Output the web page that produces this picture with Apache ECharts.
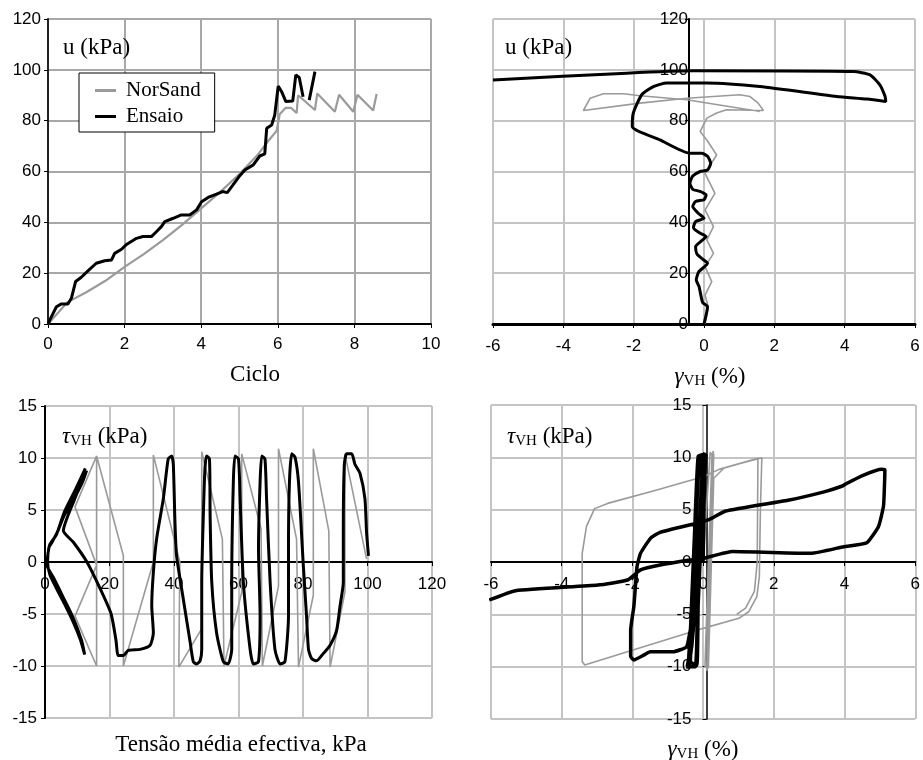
<!DOCTYPE html>
<html><head><meta charset="utf-8">
<script src="https://cdn.jsdelivr.net/npm/echarts@6/dist/echarts.min.js"></script>
<style>html,body{margin:0;padding:0;background:#fff}#c{width:923px;height:760px}</style>
</head><body><div id="c"></div>
<script>
// ---- tick labels ----
const cicloTicks = [0, 2, 4, 6, 8, 10];
const uTicks = [0, 20, 40, 60, 80, 100, 120];
const gammaTicks = [-6, -4, -2, 0, 2, 4, 6];
const pTicks = [0, 20, 40, 60, 80, 100, 120];
const tauTicks = [-15, -10, -5, 0, 5, 10, 15];

// ---- panel 1: u vs Ciclo ----
const uCicloNorSand = [[0,0],[0.5,8.5],[1,12.5],[1.5,17],[2,22.5],[2.5,27.5],[3,33],[3.5,39],[4,45.5],[4.5,52],[5,59],[5.5,67],[5.75,72],[5.97,76],[6.05,82.5],[6.2,85],[6.35,85],[6.49,83],[6.53,90],[6.97,84.2],[7.03,90.7],[7.49,83.5],[7.6,90.2],[7.97,83.5],[8.08,90.2],[8.49,84],[8.58,90.5]];
const uCicloEnsaio = [[0,0],[0.09,2.9],[0.22,6.8],[0.35,7.9],[0.52,7.9],[0.61,10.1],[0.72,16.7],[0.87,18.4],[1.05,21],[1.26,23.9],[1.48,24.9],[1.66,25.2],[1.74,27.8],[1.92,29.4],[2.05,31.3],[2.31,33.7],[2.48,34.4],[2.7,34.4],[2.83,36.3],[2.96,38.3],[3.05,40.3],[3.27,41.6],[3.48,42.9],[3.7,42.9],[3.88,44.9],[4.01,48.1],[4.18,49.8],[4.4,51.1],[4.56,52.1],[4.68,51.7],[4.83,54.7],[4.99,58],[5.14,60.6],[5.36,62.6],[5.53,66.1],[5.66,66.9],[5.71,77],[5.84,78.3],[5.92,82.2],[6.01,93.6],[6.1,91.4],[6.21,87.5],[6.39,87.7],[6.47,98],[6.56,97],[6.66,89.4],[6.75,null],[6.82,88.1],[6.97,99.3]];

// ---- panel 2: u vs gamma ----
const uGammaNorSand = [[0.03,0],[0.12,6.8],[0.03,11.4],[0.22,16.7],[0.03,22.6],[0.27,27.8],[0.08,33.1],[0.27,38.3],[0.03,44.9],[0.31,51.4],[0.03,59.3],[0.36,66.5],[0.08,72.4],[-0.11,75.7],[0.08,81],[0.36,83],[0.64,84.3],[1.69,84],[1.54,86.9],[1.31,89.5],[1.02,90.2],[-0.49,88.8],[-1.82,86.9],[-3.43,84],[-3.24,88.8],[-2.86,90.6],[-2.29,90.6],[-1.82,89.8],[-0.49,88.2],[1.59,83.6]];
const uGammaEnsaio = [[0.0,0],[0.1,6.8],[-0.04,8.5],[-0.14,14.7],[-0.22,17.3],[-0.15,20.5],[0.1,23.9],[-0.04,25.5],[-0.2,27.5],[-0.24,30.4],[-0.08,32.6],[0.06,34.4],[-0.13,35.9],[-0.3,37.9],[-0.24,40.3],[0.0,41.6],[-0.18,43.8],[-0.32,46.2],[-0.24,48.2],[0.0,48.9],[0.06,50.8],[-0.12,52.2],[-0.32,53],[-0.4,55.4],[-0.32,58.2],[-0.11,60],[0.1,60.6],[0.19,63.2],[0.1,66],[-0.07,67.2],[-0.4,67.2],[-1.25,72.4],[-2.04,77.7],[-2.01,83],[-1.77,90.2],[-1.44,93.4],[-1.06,94.8],[0.08,94.8],[1.59,93.4],[3.77,89.5],[4.63,88.5],[5.17,87.5],[5.15,89.5],[5.0,94.1],[4.72,98],[4.25,99.3],[-0.3,99.6],[-2.2,98.7],[-6.0,96]];

// ---- panel 3: tau vs p' ----
const tauPNorSand = [[99.7,0.3],[93,10.4],[93,-2.9],[88.4,-10.1],[88,3],[83.2,10.9],[83.2,-3.2],[78.6,-10.1],[78,2.2],[72.4,10.9],[72.4,-2.3],[67.4,-10],[67,3.2],[61,10.4],[61,-2.9],[55.5,-10],[55,2.2],[48.6,10.6],[48.6,-6.4],[41.5,-10.1],[41.8,0],[33.6,10.3],[33.6,0],[24.3,-10],[24.3,0.6],[16,10.2],[16,-10],[9.3,-5.2],[16,-0.3],[9.3,5.3],[16,10.2]];
const tauPEnsaio = [[100.3,0.6],[99.7,2.9],[99.2,6.1],[97.7,8.5],[96.1,9.4],[95.1,10.4],[93.5,10.4],[92.8,9.3],[92.5,2.9],[92.5,-1.95],[91.5,-4.2],[90.4,-6.6],[88.4,-8.0],[86.3,-8.8],[84.2,-9.5],[82.7,-9.3],[81.7,-8.4],[81.1,-5.2],[80.1,-0.35],[78.6,7.7],[77.5,10.1],[76.5,10.4],[75.8,7.7],[75.5,1.3],[75.5,-5.2],[74.4,-9.6],[72.9,-9.8],[71.3,-8.4],[69.8,-1.9],[68.7,6.1],[68.2,9.9],[67.2,10.2],[66.7,7.7],[66.2,1.3],[66.7,-5.2],[66.2,-9.6],[64.6,-9.8],[63.6,-8.4],[61.5,-1.9],[60.5,6.1],[60,9.9],[58.9,10.2],[58.4,7.7],[57.9,-1.9],[57.9,-8.4],[56.8,-9.8],[55.3,-9.6],[53.2,-6.8],[51.7,-1.9],[51.2,4.5],[51,9.9],[50.1,10.2],[49.6,9],[49.1,4.5],[48.6,-1.9],[48.6,-8.4],[48.1,-9.5],[47,-9.8],[46,-9.6],[45,-7.7],[42.9,-3.6],[40.8,0.6],[40.3,3.8],[39.8,9.3],[39.3,10.2],[38.2,9.9],[36.7,6.1],[34.6,2.2],[33.6,-1],[33.1,-4.2],[33.6,-6.8],[32.6,-8],[29.5,-8.4],[25.8,-8.5],[24.3,-9],[22.7,-9],[22,-7.5],[20.5,-5],[17,-2.5],[13,0],[8.8,1.9],[5.7,3.0],[9,5.9],[12.9,8.8],[11.5,7.6],[8,5.5],[6,4.5],[4,3],[2,1.8],[1.2,1.4],[0.8,0],[1.5,-1.2],[3.5,-2.5],[6,-4],[8.8,-5.8],[11,-7.5],[12.3,-8.9],[11.3,-7.5],[8.5,-5.2],[5.5,-3.3],[2.8,-1.6],[0.6,-0.3],[1.4,1.6],[3.5,2.6],[6,4.8],[9.5,7],[12.5,9]];

// ---- panel 4: tau vs gamma ----
const tauGammaNorSand = [[0,0],[0.2,10.5],[0.25,10.2],[0.05,-10.1],[0.1,-10.2],[0.28,10.6],[0.3,10.2],[0.1,-10.4],[0.15,-10],[0.3,8],[0.6,9.0],[1.66,9.97],[1.62,5],[1.59,-1.4],[1.52,-3.3],[1.29,-4.75],[1.01,-5.38],[0,-6.34],[-3.35,-9.84],[-3.42,-9.5],[-3.42,0.83],[-3.3,3.4],[-3.07,5.1],[-2.7,5.6],[-1.31,6.88],[0,8.15],[0.45,8.85],[1.55,9.9],[1.53,0],[1.45,-2.8],[1.2,-4.4],[0.95,-5.0]];
const tauGammaEnsaio = [[0,0],[0.04,8],[0.08,10.3],[0.0,9.8],[-0.1,4],[-0.22,-4],[-0.38,-9.6],[-0.45,-10],[-0.4,-9],[-0.25,-3],[-0.1,3],[0.0,10.2],[-0.1,10],[-0.2,4],[-0.3,-3],[-0.42,-9.8],[-0.44,-10.2],[-0.32,-8],[-0.18,-2],[-0.06,4],[0.04,10.3],[-0.14,10.1],[-0.24,3],[-0.34,-5],[-0.4,-10],[-0.22,-10],[-0.16,-5],[-0.06,2],[0.0,8],[0.05,10.4],[-0.12,9.5],[-0.22,2],[-0.3,-5],[-0.36,-9.5],[-0.18,-9.9],[-0.14,-4],[-0.06,2],[-0.02,8],[0.06,10.2],[-0.14,8],[-0.26,0],[-0.34,-6],[-0.38,-6.8],[-0.47,-8.1],[-0.84,-8.57],[-1.5,-8.57],[-1.68,-8.9],[-1.96,-9.36],[-2.05,-9.0],[-2.05,-6.5],[-1.96,-4.27],[-1.87,-0.45],[-1.77,0.83],[-1.49,2.26],[-1.22,2.83],[-0.19,3.7],[0.18,4.08],[0.64,4.87],[2.4,5.9],[3.42,6.7],[3.94,7.26],[4.03,7.45],[4.54,8.3],[5.05,8.85],[5.14,8.8],[5.12,6.5],[5.1,5.3],[4.96,3.4],[4.63,1.85],[3.98,1.46],[3.05,0.83],[0.83,1.0],[0,0.35],[-0.38,0.19],[-1.22,-0.29],[-1.77,-0.76],[-2.14,-1.72],[-2.98,-2.2],[-5.3,-2.74],[-6.05,-3.63]];

// ---- styling ----
const SANS = 'Liberation Sans', SERIF = 'Liberation Serif';
const GRAY = '#9a9a9a', BLACK = '#000';
function rng(t) { return { min: t[0], max: t[t.length - 1], interval: t[1] - t[0] }; }
function axis(t, grid, opts) {
  const o = Object.assign({
    type: 'value', gridIndex: grid,
    axisLabel: { fontFamily: SANS, fontSize: 17, color: '#000', margin: 8 },
    axisTick: { show: true, length: 4, lineStyle: { color: '#000' } },
    axisLine: { show: true, lineStyle: { color: '#000', width: 2 } },
    splitLine: { show: true, lineStyle: { color: '#c4c4c4', width: 2 } }
  }, rng(t));
  return echarts.util.merge(o, opts || {}, true);
}
function ser(name, data, xi, gray, extra) {
  return Object.assign({
    name, type: 'line', xAxisIndex: xi, yAxisIndex: xi, data,
    symbol: 'none', showSymbol: false, animation: false, connectNulls: false,
    color: gray ? GRAY : BLACK,
    lineStyle: { color: gray ? GRAY : BLACK, width: gray ? 1.6 : 3 },
    z: gray ? 2 : 3
  }, extra || {});
}
const subRich = {
  g: { fontFamily: SERIF, fontStyle: 'italic', fontSize: 23, fill: '#000' },
  s: { fontFamily: SERIF, fontSize: 15, fill: '#000', verticalAlign: 'bottom' },
  n: { fontFamily: SERIF, fontSize: 23, fill: '#000' }
};
function label(text, x, y, align) {
  return { type: 'text', x, y, z: 50,
    style: { text, align: align || 'left', verticalAlign: 'middle', fontFamily: SERIF, fontSize: 23, fill: '#000', rich: subRich } };
}

const chart = echarts.init(document.getElementById('c'), null, { renderer: 'canvas' });
chart.setOption({
  backgroundColor: '#fff',
  animation: false,
  grid: [
    { left: 48, top: 19, width: 383, height: 305 },
    { left: 493, top: 19, width: 422, height: 305 },
    { left: 45, top: 406, width: 387, height: 312 },
    { left: 491, top: 405, width: 431, height: 314 }
  ],
  xAxis: [
    axis(cicloTicks, 0, { axisLabel: { margin: 12 }, splitLine: { lineStyle: { color: '#a8a8a8' } } }),
    axis(gammaTicks, 1, { axisLine: { lineStyle: { width: 3 } }, axisLabel: { margin: 14 } }),
    axis(pTicks, 2, { offset: -156, axisLine: { onZero: false }, axisLabel: { margin: 14 } }),
    axis(gammaTicks, 3, { offset: -157, axisLine: { onZero: false }, axisLabel: { margin: 14 } })
  ],
  yAxis: [
    axis(uTicks, 0, { axisLine: { lineStyle: { color: '#222' } }, axisLabel: { margin: 7 }, splitLine: { lineStyle: { color: '#a8a8a8' } } }),
    axis(uTicks, 1, { offset: -196, axisLine: { onZero: false }, axisLabel: { margin: 1 } }),
    axis(tauTicks, 2, { axisLabel: { margin: 8 } }),
    axis(tauTicks, 3, { offset: -215.5, axisLine: { onZero: false, lineStyle: { width: 1.5 } }, axisLabel: { margin: 15 } })
  ],
  legend: {
    data: [{ name: 'NorSand', icon: 'rect' }, { name: 'Ensaio', icon: 'rect' }],
    orient: 'vertical', left: 79, top: 73, itemWidth: 21, itemHeight: 3, itemGap: 5,
    padding: [7, 14, 5, 16], backgroundColor: '#fff', borderColor: '#000', borderWidth: 1,
    selectedMode: false,
    textStyle: { fontFamily: SERIF, fontSize: 21, color: '#000', padding: [0, 0, 0, 5] }
  },
  graphic: [
    label('u (kPa)', 63, 48),
    label('u (kPa)', 505, 48),
    label('Ciclo', 255, 375, 'center'),
    label('{g|γ}{s|VH} (%)', 710, 377, 'center'),
    label('{g|τ}{s|VH} (kPa)', 62, 437),
    label('{g|τ}{s|VH} (kPa)', 507, 437),
    label('Tensão média efectiva, kPa', 241, 745, 'center'),
    label('{g|γ}{s|VH} (%)', 703, 750, 'center')
  ],
  series: [
    ser('NorSand', uCicloNorSand, 0, true, { lineStyle: { color: GRAY, width: 2.2 } }),
    ser('Ensaio', uCicloEnsaio, 0, false),
    ser('NorSand', uGammaNorSand, 1, true),
    ser('Ensaio', uGammaEnsaio, 1, false, { smooth: 0.2 }),
    ser('NorSand', tauPNorSand, 2, true),
    ser('Ensaio', tauPEnsaio, 2, false, { smooth: 0.2 }),
    ser('NorSand', tauGammaNorSand, 3, true),
    ser('Ensaio', tauGammaEnsaio, 3, false, { smooth: 0.15, lineStyle: { color: BLACK, width: 3.5 } })
  ]
});
</script></body></html>
